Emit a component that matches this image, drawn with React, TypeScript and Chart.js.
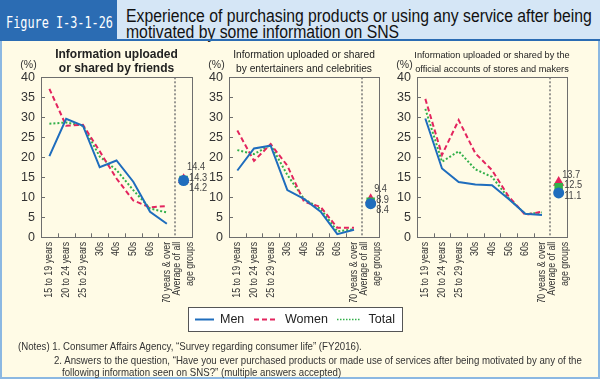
import React, { useEffect, useRef } from 'react';
import { Chart, registerables } from 'chart.js';
Chart.register(...registerables);

// ---------- data ----------
const categories: (string | string[])[] = [
  '15 to 19 years', '20 to 24 years', '25 to 29 years', '30s', '40s', '50s', '60s',
  '70 years & over', ['Average of all', 'age groups'],
];

const friendsMen = [20.3, 29.6, 27.9, 17.5, 19.2, 13.9, 6.4, 3.4];
const friendsWomen = [37.1, 27.9, 28.1, 21.5, 14.7, 9.2, 7.5, 7.8];
const friendsTotal = [28.4, 28.7, 27.9, 20.2, 16.8, 11.8, 7.2, 6.2];

const celebMen = [16.7, 22.2, 22.9, 11.8, 9.6, 6.4, 0.8, 1.9];
const celebWomen = [26.7, 19.1, 23.3, 17.9, 8.9, 7.6, 2.4, 2.4];
const celebTotal = [21.8, 20.8, 23.1, 15.6, 9.6, 7.1, 1.5, 2.0];

const storeMen = [29.7, 17.2, 13.8, 13.2, 13.0, 9.6, 5.9, 5.6];
const storeWomen = [34.6, 20.6, 29.3, 21.0, 16.8, 10.2, 5.6, 6.4];
const storeTotal = [32.1, 18.9, 21.5, 17.0, 15.1, 9.8, 5.8, 6.2];

// averages of all age groups: friends, celebrities, stores
const avgMen = [14.2, 8.4, 11.1];
const avgWomen = [14.4, 9.4, 13.7];
const avgTotal = [14.3, 8.9, 12.5];

const panelTitles = [
  ['Information uploaded', 'or shared by friends'],
  ['Information uploaded or shared', 'by entertainers and celebrities'],
  ['Information uploaded or shared by the', 'official accounts of stores and makers'],
];

const yMax = 40;
const yStep = 5;

const seriesNames = ['Men', 'Women', 'Total'];
const figureLabel = 'Figure I-3-1-26';
const titleLines = [
  'Experience of purchasing products or using any service after being',
  'motivated by some information on SNS',
];
const notes = [
  '(Notes) 1. Consumer Affairs Agency, \u201cSurvey regarding consumer life\u201d (FY2016).',
  '2. Answers to the question, \u201cHave you ever purchased products or made use of services after being motivated by any of the',
  'following information seen on SNS?\u201d (multiple answers accepted)',
];

// ---------- styles ----------
const C_MEN = '#1f6dbd';
const C_WOMEN = '#e3245e';
const C_TOTAL = '#33b04a';
const C_AXIS = '#6e6e6e';
const C_TEXT = '#333333';
const FONT = '"Liberation Sans", Arial, sans-serif';

const panelLayouts = [
  { plotLeft: 41, plotWidth: 151, titleFont: `bold 12px ${FONT}` },
  { plotLeft: 229, plotWidth: 150, titleFont: `10.2px ${FONT}` },
  { plotLeft: 417, plotWidth: 150, titleFont: `9.2px ${FONT}` },
];
const CANVAS_TOP = 40;
const CANVAS_H = 262;
const PLOT_TOP = 37.3;
const XAXIS_H = 64.7;
const RIGHT_PAD = 32;

const decoPlugin = {
  id: 'deco',
  beforeDatasetsDraw(chart: any) {
    const { ctx, chartArea: a, scales } = chart;
    const y = scales.y;
    const n = chart.data.labels.length;
    const w = a.width / n;
    ctx.save();
    ctx.strokeStyle = C_AXIS;
    ctx.lineWidth = 1;
    ctx.strokeRect(Math.round(a.left) + 0.5, Math.round(a.top) + 0.5, Math.round(a.width), Math.round(a.height));
    ctx.beginPath();
    for (let v = yStep; v < yMax; v += yStep) {
      const py = Math.round(y.getPixelForValue(v)) + 0.5;
      ctx.moveTo(a.left, py);
      ctx.lineTo(a.left + 4, py);
    }
    for (let i = 1; i < n - 1; i++) {
      const px = Math.round(a.left + w * i) + 0.5;
      ctx.moveTo(px, a.bottom);
      ctx.lineTo(px, a.bottom - 4);
    }
    ctx.stroke();
    ctx.beginPath();
    ctx.setLineDash([2, 2]);
    ctx.lineWidth = 1.5;
    ctx.strokeStyle = '#777';
    const dx = Math.round(a.left + w * (n - 1));
    ctx.moveTo(dx, a.top);
    ctx.lineTo(dx, a.bottom);
    ctx.stroke();
    ctx.restore();
  },
  afterDraw(chart: any, _args: any, opts: any) {
    const { ctx, chartArea: a, scales } = chart;
    const x = scales.x;
    ctx.save();
    // panel title
    ctx.fillStyle = '#222';
    ctx.font = opts.titleFont;
    ctx.textAlign = 'center';
    ctx.textBaseline = 'middle';
    const cx = (a.left + a.right) / 2;
    opts.title.forEach((t: string, i: number) => ctx.fillText(t, cx, 15 + i * 14));
    // unit
    ctx.font = `10.5px ${FONT}`;
    ctx.fillStyle = C_TEXT;
    ctx.fillText('(%)', a.left - 12.5, 25);
    // x labels (rotated)
    ctx.font = `10.5px ${FONT}`;
    const labels = chart.data.labels;
    labels.forEach((lab: any, i: number) => {
      const lines = Array.isArray(lab) ? lab : [lab];
      const px = x.getPixelForValue(i);
      lines.forEach((ln: string, k: number) => {
        const off = (k - (lines.length - 1) / 2) * 13;
        ctx.save();
        ctx.translate(px + off, a.bottom + 4.5);
        ctx.rotate(-Math.PI / 2);
        ctx.scale(0.84, 1);
        ctx.textAlign = 'right';
        ctx.textBaseline = 'middle';
        ctx.fillText(ln, 0, 0);
        ctx.restore();
      });
    });
    // average value labels
    const items: { x: number; y: number; v: number }[] = [];
    chart.data.datasets.forEach((ds: any, di: number) => {
      if (!ds.isAvg) return;
      const meta = chart.getDatasetMeta(di);
      const idx = ds.data.length - 1;
      const el = meta.data[idx];
      items.push({ x: el.x, y: el.y, v: ds.data[idx] });
    });
    items.sort((p, q) => p.y - q.y);
    const mean = items.reduce((s, p) => s + p.y, 0) / items.length;
    ctx.font = `10.5px ${FONT}`;
    ctx.fillStyle = '#444';
    ctx.textAlign = 'left';
    ctx.textBaseline = 'middle';
    items.forEach((p, k) => {
      const ty = mean + (k - 1) * 10.5 - 2;
      ctx.save();
      ctx.translate(p.x + (k === 0 ? 3.5 : 5.5), ty);
      ctx.scale(0.88, 1);
      ctx.fillText(p.v.toFixed(1), 0, 0);
      ctx.restore();
    });
    ctx.restore();
  },
};

function Panel({ idx, men, women, total }: { idx: number; men: number[]; women: number[]; total: number[] }) {
  const ref = useRef<HTMLCanvasElement>(null);
  const lay = panelLayouts[idx];
  const cw = lay.plotWidth + 40 + RIGHT_PAD;
  useEffect(() => {
    const n = categories.length;
    const atAvg = (v: number) => categories.map((_, i) => (i === n - 1 ? v : null));
    const line = (label: string, data: number[], color: string, dash: number[], width: number) => ({
      label, data, borderColor: color, backgroundColor: color, borderWidth: width, borderDash: dash,
      pointRadius: 0, tension: 0, fill: false,
    });
    const avg = (label: string, v: number, color: string, style: string, r: number) => ({
      label, data: atAvg(v), isAvg: true, showLine: false, pointStyle: style, pointRadius: r,
      borderColor: color, backgroundColor: color, borderWidth: 0,
    });
    const chart = new Chart(ref.current as HTMLCanvasElement, {
      type: 'line',
      data: {
        labels: categories as any,
        datasets: [
          line(seriesNames[0], men, C_MEN, [], 2),
          line(seriesNames[1], women, C_WOMEN, [5, 3], 2),
          line(seriesNames[2], total, C_TOTAL, [2, 2], 2),
          avg(seriesNames[0], avgMen[idx], C_MEN, 'circle', 5.5),
          avg(seriesNames[2], avgTotal[idx], C_TOTAL, 'rect', 6),
          avg(seriesNames[1], avgWomen[idx], C_WOMEN, 'triangle', 6.5),
        ] as any,
      },
      options: {
        animation: false,
        responsive: false,
        events: [],
        layout: { padding: { top: PLOT_TOP, left: 0, right: RIGHT_PAD, bottom: 0 } },
        plugins: {
          legend: { display: false },
          title: { display: false },
          tooltip: { enabled: false },
          deco: { title: panelTitles[idx], titleFont: lay.titleFont },
        } as any,
        scales: {
          x: {
            type: 'category',
            offset: true,
            grid: { display: false, drawTicks: false },
            border: { display: false },
            ticks: { display: false },
            afterFit: (s: any) => { s.height = XAXIS_H; },
          },
          y: {
            min: 0,
            max: yMax,
            grid: { display: false, drawTicks: false },
            border: { display: false },
            ticks: { stepSize: yStep, padding: 6, color: C_TEXT, font: { family: FONT, size: 12.5 } },
            afterFit: (s: any) => { s.width = 40; },
          },
        },
      },
      plugins: [decoPlugin],
    } as any);
    return () => chart.destroy();
  }, []);
  return (
    <canvas
      ref={ref}
      width={cw}
      height={CANVAS_H}
      style={{ position: 'absolute', left: lay.plotLeft - 40, top: CANVAS_TOP, width: cw, height: CANVAS_H }}
    />
  );
}

export default function App() {
  const condensed = (sx: number): React.CSSProperties => ({
    transform: `scaleX(${sx})`, transformOrigin: 'left center', whiteSpace: 'nowrap',
  });
  return (
    <div style={{ position: 'fixed', left: 0, top: 0, width: 600, height: 379, background: '#fffbe6', overflow: 'hidden', fontFamily: FONT }}>
      {/* header */}
      <div style={{ position: 'absolute', left: 0, top: 0, width: 600, height: 40, background: '#d5e6f6' }} />
      <div style={{ position: 'absolute', left: 0, top: 0, width: 117, height: 40, background: '#2b6cb3' }} />
      <div style={{ position: 'absolute', left: 6, top: 12, height: 22, lineHeight: '22px', color: '#fff', fontFamily: '"DejaVu Sans Mono", monospace', fontSize: 16, ...condensed(0.74) }}>
        {figureLabel}
      </div>
      {titleLines.map((t, i) => (
        <div key={i} style={{ position: 'absolute', left: 126, top: 6.5 + i * 16.5, height: 18, lineHeight: '18px', fontSize: 17.5, color: '#111', ...condensed(0.9) }}>
          {t}
        </div>
      ))}
      <div style={{ position: 'absolute', left: 0, top: 39, width: 600, height: 2, background: '#2b6cb3' }} />
      {/* body borders */}
      <div style={{ position: 'absolute', left: 0, top: 41, width: 2, height: 338, background: '#8cb8e2' }} />
      <div style={{ position: 'absolute', left: 598, top: 41, width: 2, height: 338, background: '#8cb8e2' }} />
      <div style={{ position: 'absolute', left: 0, top: 377, width: 600, height: 2, background: '#8cb8e2' }} />

      <Panel idx={0} men={friendsMen} women={friendsWomen} total={friendsTotal} />
      <Panel idx={1} men={celebMen} women={celebWomen} total={celebTotal} />
      <Panel idx={2} men={storeMen} women={storeWomen} total={storeTotal} />

      {/* legend */}
      <div style={{ position: 'absolute', left: 188, top: 307, width: 215, height: 25, boxSizing: 'border-box', border: '1px solid #555', background: '#fff' }} />
      <svg style={{ position: 'absolute', left: 0, top: 0 }} width={600} height={379}>
        <line x1={195} x2={214} y1={319.5} y2={319.5} stroke={C_MEN} strokeWidth={2} />
        <line x1={254} x2={278} y1={319.5} y2={319.5} stroke={C_WOMEN} strokeWidth={2} strokeDasharray="5 3" />
        <line x1={337} x2={360} y1={319.5} y2={319.5} stroke={C_TOTAL} strokeWidth={1.5} strokeDasharray="1.5 1.5" />
      </svg>
      {[{ t: seriesNames[0], x: 220 }, { t: seriesNames[1], x: 285 }, { t: seriesNames[2], x: 368.5 }].map((l) => (
        <div key={l.t} style={{ position: 'absolute', left: l.x, top: 311, height: 16, lineHeight: '16px', fontSize: 12.5, color: '#222' }}>{l.t}</div>
      ))}
      {/* notes */}
      {notes.map((t, i) => (
        <div key={i} style={{ position: 'absolute', left: [18, 54, 62][i], top: [339, 353, 365][i], height: 14, lineHeight: '14px', fontSize: 11.5, color: C_TEXT, ...condensed(0.84) }}>
          {t}
        </div>
      ))}
    </div>
  );
}
